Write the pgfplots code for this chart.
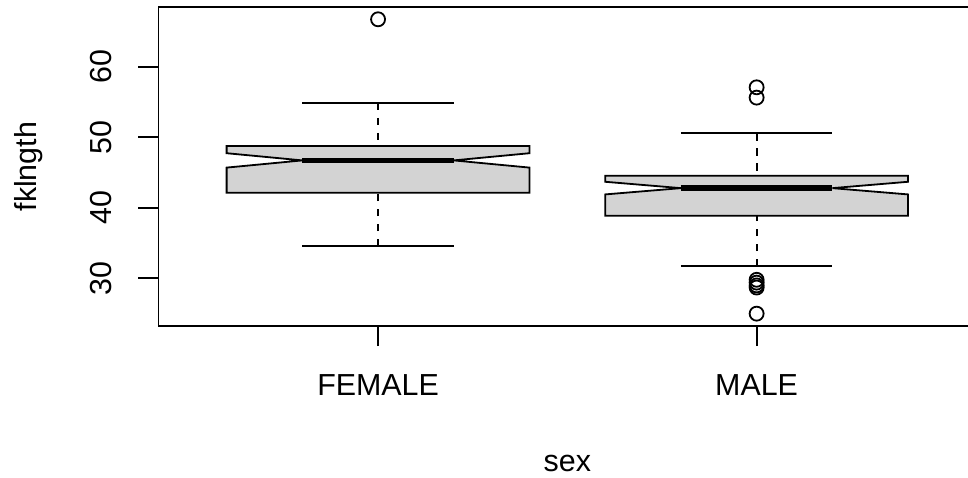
\documentclass[border=0pt]{standalone}
\usepackage{pgfplots}
\pgfplotsset{compat=1.18}
\usepackage{fontspec}
\setmainfont{Liberation Sans}
\definecolor{boxgray}{HTML}{D3D3D3}

\begin{document}
\begin{tikzpicture}
% page extent: plot region is cut off on the right
\useasboundingbox (-79.25pt,-75.5pt) rectangle (404.75pt,163pt);
\begin{axis}[
  scale only axis,
  width=408.85pt, height=159.35pt,
  xmin=0.42, xmax=2.58, ymin=23.25, ymax=68.42,
  xtick={1,2}, xticklabels={FEMALE,MALE},
  ytick={30,40,50,60},
  tick pos=left, tick align=outside,
  major tick length=10pt,
  axis line style={line width=0.9pt},
  major tick style={black, line width=0.9pt},
  /pgf/number format/assume math mode=true,
  tick label style={font=\fontsize{15.2}{18}\selectfont},
  label style={font=\fontsize{15.2}{18}\selectfont},
  xticklabel style={anchor=base, inner sep=0pt},
  yticklabel style={rotate=90, anchor=base, inner sep=0pt},
  xticklabel shift=24.5pt,
  yticklabel shift=13.3pt,
  xlabel={sex}, ylabel={fklngth},
  xlabel style={at={(axis description cs:0.5,-0.4572)}, anchor=base, inner sep=0pt},
  ylabel style={at={(axis description cs:-0.1497,0.5)}, rotate=0, anchor=base, inner sep=0pt},
]
% FEMALE: notched box
\addplot[fill=boxgray, draw=black, line width=0.9pt] coordinates {
  (0.6,42.13) (1.4,42.13) (1.4,45.70) (1.2,46.72) (1.4,47.74) (1.4,48.75)
  (0.6,48.75) (0.6,47.74) (0.8,46.72) (0.6,45.70)} -- cycle;
\addplot[line width=2.8pt] coordinates {(0.8,46.72) (1.2,46.72)};
\addplot[line width=0.9pt, dash pattern=on 3.75pt off 3.75pt] coordinates {(1,54.89) (1,48.75)};
\addplot[line width=0.9pt, dash pattern=on 3.75pt off 3.75pt] coordinates {(1,34.56) (1,42.13)};
\addplot[line width=0.9pt] coordinates {(0.8,54.89) (1.2,54.89)};
\addplot[line width=0.9pt] coordinates {(0.8,34.56) (1.2,34.56)};
\addplot[only marks, mark=o, mark size=3.5pt, line width=0.9pt] coordinates {(1,66.72)};
% MALE: notched box
\addplot[fill=boxgray, draw=black, line width=0.9pt] coordinates {
  (1.6,38.87) (2.4,38.87) (2.4,41.90) (2.2,42.79) (2.4,43.69) (2.4,44.54)
  (1.6,44.54) (1.6,43.69) (1.8,42.79) (1.6,41.90)} -- cycle;
\addplot[line width=2.8pt] coordinates {(1.8,42.79) (2.2,42.79)};
\addplot[line width=0.9pt, dash pattern=on 3.75pt off 3.75pt] coordinates {(2,50.55) (2,44.54)};
\addplot[line width=0.9pt, dash pattern=on 3.75pt off 3.75pt] coordinates {(2,31.73) (2,38.87)};
\addplot[line width=0.9pt] coordinates {(1.8,50.55) (2.2,50.55)};
\addplot[line width=0.9pt] coordinates {(1.8,31.73) (2.2,31.73)};
\addplot[only marks, mark=o, mark size=3.5pt, line width=0.9pt] coordinates {
  (2,57.08) (2,55.62) (2,29.8) (2,29.4) (2,29.0) (2,28.7) (2,25.0)};
\end{axis}
\end{tikzpicture}
\end{document}
